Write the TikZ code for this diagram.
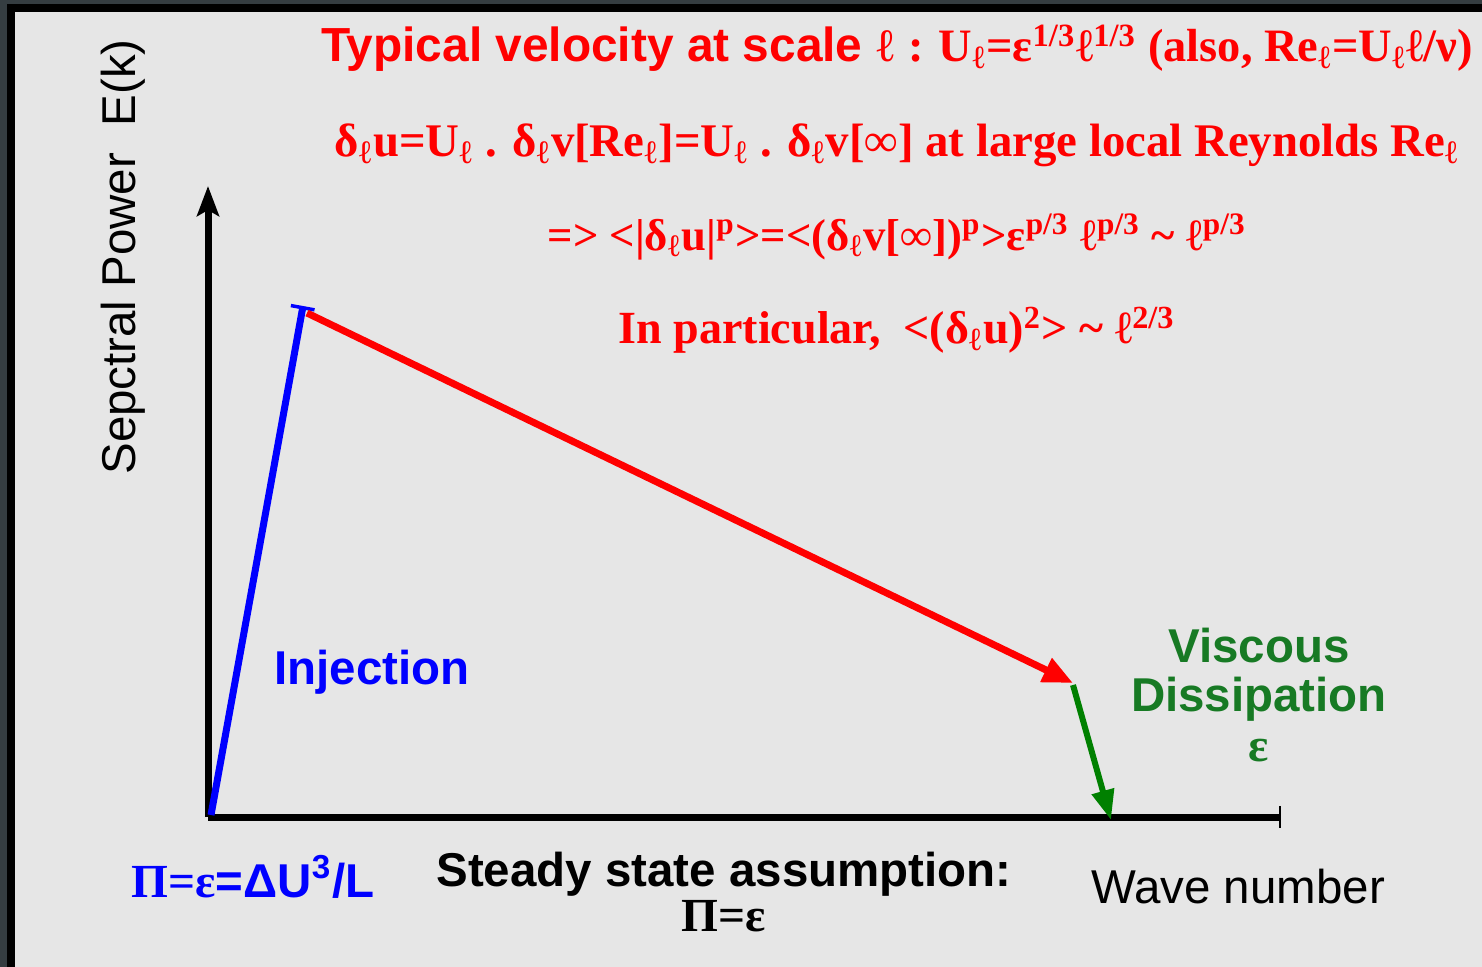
\documentclass[tikz,border=0pt]{standalone}
\usepackage{fontspec}
\setmainfont{Liberation Serif}
\setsansfont{Liberation Sans}
\usetikzlibrary{arrows.meta,positioning}
\definecolor{frame}{RGB}{53,61,65}
\definecolor{paper}{RGB}{230,230,230}
\definecolor{viscgreen}{RGB}{23,122,36}
\definecolor{arrgreen}{RGB}{0,128,0}
\newcommand{\lsub}{\textsubscript{ℓ}}
\newcommand{\upp}[1]{\textsuperscript{#1}}

\tikzset{
  law/.style={text=red,inner sep=0pt,font=\rmfamily\bfseries\fontsize{13.3}{15}\selectfont},
  label/.style={inner sep=0pt,font=\sffamily\fontsize{13.5}{16}\selectfont},
  boldlabel/.style={label,font=\sffamily\bfseries\fontsize{13.5}{14.2}\selectfont},
  axis/.style={line width=0.07cm,black},
  flow/.style={line width=0.07cm}
}

\begin{document}
\begin{tikzpicture}[x=0.01cm,y=-0.01cm]
  % frame and paper
  \fill[frame] (0,0) rectangle (1482,967);
  \fill[black] (7,4) rectangle (1482,967);
  \fill[paper] (15,12) rectangle (1482,967);
  \useasboundingbox (0,0) rectangle (1482,967);

  % points of the spectrum
  \coordinate (O) at (208,817);
  \coordinate (ytop) at (208,186);
  \coordinate (xend) at (1280,817);
  \coordinate (inj) at (211,815);
  \coordinate (peak) at (303,306);
  \coordinate (cascA) at (307,313);
  \coordinate (cascB) at (1073,683);
  \coordinate (dissA) at (1073,685);
  \coordinate (kd) at (1111,820);

  % axes
  \draw[axis,-{Stealth[length=0.3cm,width=0.22cm,inset=0.06cm]}] (O) -- (ytop);
  \draw[axis] (O) -- (xend);
  \draw[line width=0.02cm] ([yshift=0.11cm]xend) -- ([yshift=-0.11cm]xend);

  % injection, cascade, dissipation
  \draw[flow,blue,-{Bar[width=0.24cm,line width=0.035cm]}] (inj) -- (peak);
  \draw[flow,red,-{Triangle[length=0.3cm,width=0.25cm]}] (cascA) -- (cascB);
  \draw[flow,line width=0.06cm,arrgreen,-{Triangle[length=0.3cm,width=0.22cm]}] (dissA) -- (kd);

  % axis labels
  \node[label,rotate=90] (ylab) at (123,257) {Sepctral Power\ \ E(k)};
  \node[label] (xlab) at (1238,887) {Wave number};

  % regime labels
  \node[boldlabel,text=blue] (injlab) at (372,672) {Injection};
  \node[boldlabel,text=viscgreen,align=center] (visclab) at (1259,695) {Viscous\\Dissipation\\{\rmfamily ε}};
  \node[boldlabel,text=blue] (flux) at (253,877) {{\rmfamily Π=ε}=ΔU\upp{3}/L};
  \node[boldlabel,align=center,font=\sffamily\bfseries\fontsize{13.5}{12.8}\selectfont] (steady) at (724,892) {Steady state assumption:\\{\rmfamily Π=ε}};

  % scaling laws
  \node[law,font=\rmfamily\bfseries\fontsize{13.2}{15}\selectfont] (scale) at (897,48) {{\sffamily\fontsize{13.6}{15}\selectfont Typical velocity at scale} {\mdseries ℓ} : U\lsub=ε\upp{1/3}ℓ\upp{1/3} (also, Re\lsub=U\lsub{}ℓ/ν)};
  \node[law] (incr) at (897,145) {δ\lsub u=U\lsub{} . δ\lsub v[Re\lsub]=U\lsub{} . δ\lsub v[∞] at large local Reynolds Re\lsub};
  \node[law,font=\rmfamily\bfseries\fontsize{12.7}{15}\selectfont] (moments) at (897,237) {=> <|δ\lsub u|\upp{p}>=<(δ\lsub v[∞])\upp{p}>ε\upp{p/3} ℓ\upp{p/3} \textasciitilde{} ℓ\upp{p/3}};
  \node[law,font=\rmfamily\bfseries\fontsize{13.1}{15}\selectfont] (second) at (897,330) {In particular,\ \ <(δ\lsub u)\upp{2}> \textasciitilde{} ℓ\upp{2/3}};
\end{tikzpicture}
\end{document}
